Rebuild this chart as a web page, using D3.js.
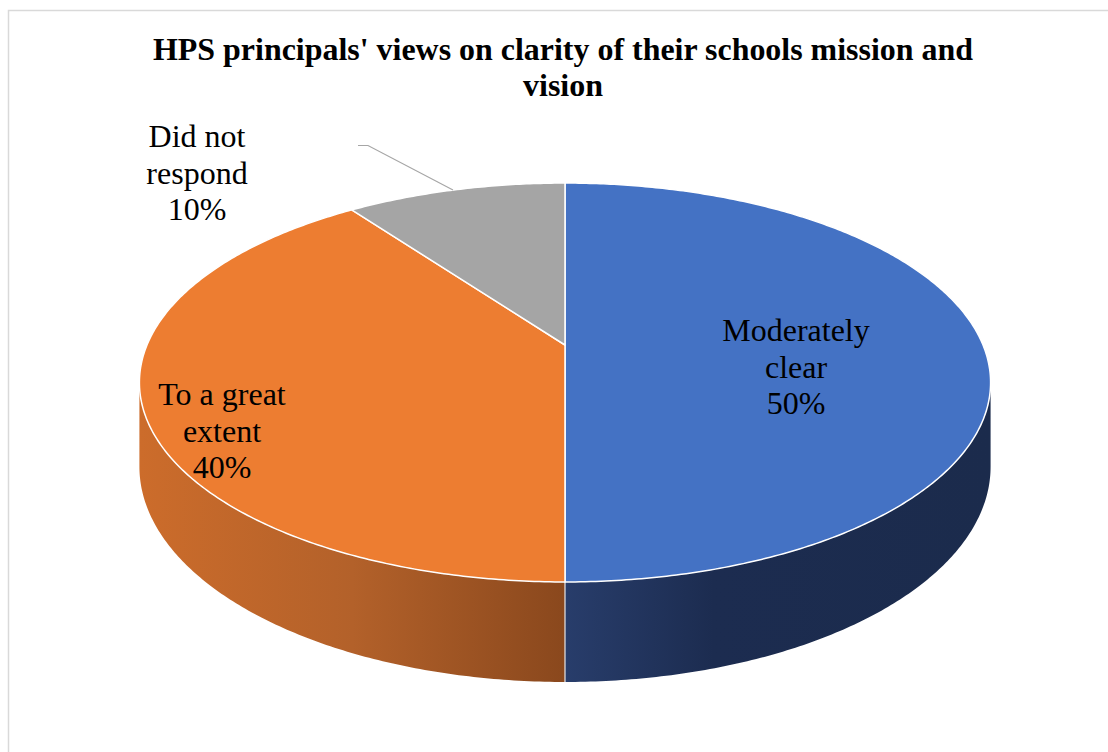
<!DOCTYPE html>
<html><head><meta charset="utf-8">
<script src="https://cdn.jsdelivr.net/npm/d3@7"></script>
<style>html,body{margin:0;padding:0;background:#fff;}svg{display:block;}</style>
</head><body>
<svg id="chart" width="1108" height="752"></svg>
<script>
const titleLines = ["HPS principals' views on clarity of their schools mission and", "vision"];
const categories = ["Moderately clear", "To a great extent", "Did not respond"];
const values = [50, 40, 10];
const labelLines = [["Moderately", "clear", "50%"], ["To a great", "extent", "40%"], ["Did not", "respond", "10%"]];
const topColors = ["#4472c4", "#ed7d31", "#a5a5a5"];

const svg = d3.select("#chart");
svg.append("rect").attr("x", 8.5).attr("y", 10.5).attr("width", 1110).attr("height", 760)
  .attr("fill", "#fff").attr("stroke", "#d9d9d9").attr("stroke-width", 1.5);

// perspective projection of the pie disk
const X0 = 565, Y0 = 345, k = 0.188, A = 418, B = 192.4, D = 81.2;
function proj(theta, r, h) {
  const u = r * Math.sin(theta), v = r * Math.cos(theta);
  const den = 1 + k * v;
  return [X0 + A * u / den, Y0 - B * v / den + h * D / den];
}
const pie = d3.pie().sort(null).startAngle(0).endAngle(2 * Math.PI);
const arcs = pie(values);
const line = d3.line();
const defs = svg.append("defs");

const gO = defs.append("linearGradient").attr("id", "gO").attr("gradientUnits", "userSpaceOnUse")
  .attr("x1", 140).attr("x2", 565).attr("y1", 0).attr("y2", 0);
gO.append("stop").attr("offset", 0).attr("stop-color", "#cc6c2b");
gO.append("stop").attr("offset", 0.5).attr("stop-color", "#b3612a");
gO.append("stop").attr("offset", 1).attr("stop-color", "#8a481d");
const gB = defs.append("linearGradient").attr("id", "gB").attr("gradientUnits", "userSpaceOnUse")
  .attr("x1", 565).attr("x2", 990).attr("y1", 0).attr("y2", 0);
gB.append("stop").attr("offset", 0).attr("stop-color", "#283d6b");
gB.append("stop").attr("offset", 0.35).attr("stop-color", "#1c2c50");
gB.append("stop").attr("offset", 1).attr("stop-color", "#1b2b4c");
const sideFill = ["url(#gB)", "url(#gO)", "#6b6b6b"];

const thL = Math.acos(-k), thR = 2 * Math.PI - Math.acos(-k);
function samples(a0, a1) {
  const n = Math.max(2, Math.ceil((a1 - a0) / 0.01));
  return d3.range(n + 1).map(i => a0 + (a1 - a0) * i / n);
}
// sides
arcs.forEach((a, i) => {
  const s0 = Math.max(a.startAngle, thL), s1 = Math.min(a.endAngle, thR);
  if (s1 <= s0) return;
  const t = samples(s0, s1);
  const pts = t.map(th => proj(th, 1, 0)).concat(t.slice().reverse().map(th => proj(th, 1, 1)));
  svg.append("path").attr("d", line(pts) + "Z").attr("fill", sideFill[i]);
});
// boundary line on side at 180deg
svg.append("path").attr("d", line([proj(Math.PI, 1, 0), proj(Math.PI, 1, 1)]))
  .attr("stroke", "#e8e8e8").attr("stroke-width", 1.2);
// tops
arcs.forEach((a, i) => {
  const pts = [proj(0, 0, 0)].concat(samples(a.startAngle, a.endAngle).map(th => proj(th, 1, 0)));
  svg.append("path").attr("d", line(pts) + "Z").attr("fill", topColors[i])
    .attr("stroke", "#fff").attr("stroke-width", 1.5).attr("stroke-linejoin", "round");
});

// leader line
svg.append("path").attr("d", line([[358, 145.5], [368, 145.5], [453, 190]]))
  .attr("fill", "none").attr("stroke", "#a6a6a6").attr("stroke-width", 1.2);

// labels
const labelPos = [[796, 341], [222, 405], [197, 147]];
labelLines.forEach((ls, i) => {
  const t = svg.append("text").attr("text-anchor", "middle")
    .attr("font-family", "Liberation Serif").attr("font-size", 32).attr("fill", "#000");
  ls.forEach((s, j) => t.append("tspan").attr("x", labelPos[i][0]).attr("y", labelPos[i][1] + j * 36.5).text(s));
});

// title
const tl = svg.append("text").attr("text-anchor", "middle")
  .attr("font-family", "Liberation Serif").attr("font-weight", "bold")
  .attr("font-size", 32).attr("fill", "#000");
titleLines.forEach((s, j) => {
  const ts = tl.append("tspan").attr("x", 563).attr("y", 60 + j * 36).text(s);
  if (j === 0) ts.attr("textLength", 820).attr("lengthAdjust", "spacingAndGlyphs");
});
</script>
</body></html>
